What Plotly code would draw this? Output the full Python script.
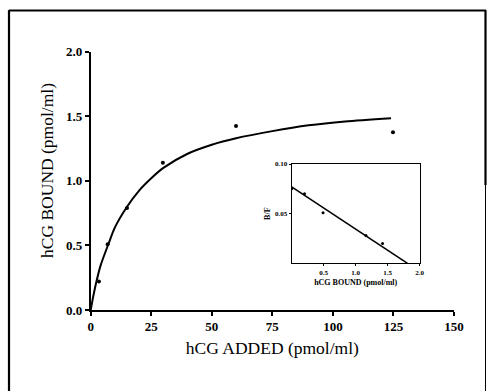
import plotly.graph_objects as go

# Main saturation data (hCG added vs bound)
added_pts = [3.4, 7.0, 15.0, 29.8, 60.0, 124.8]
bound_pts = [0.22, 0.51, 0.79, 1.14, 1.425, 1.376]

# Fitted saturation curve
curve_x = [0, 1, 2, 4, 7.5, 10, 15, 20, 25, 30, 40, 50, 60, 75, 90, 105, 124]
curve_y = [0, 0.10, 0.19, 0.34, 0.52, 0.64, 0.80, 0.925, 1.02, 1.10, 1.21, 1.28, 1.33, 1.385, 1.43, 1.46, 1.485]

# Scatchard inset
sc_bound = [0.0, 0.2, 0.49, 1.16, 1.42]
sc_bf = [0.075, 0.070, 0.051, 0.028, 0.020]
sc_line_x = [0.0, 1.81]
sc_line_y = [0.077, 0.0]

main_xticks = [0, 25, 50, 75, 100, 125, 150]
main_yticks = [0.0, 0.5, 1.0, 1.5, 2.0]
inset_xticks = [0.5, 1.0, 1.5, 2.0]
inset_yticks = [0.05, 0.10]

W, H = 488, 391
SERIF = "Liberation Serif"
tickfont = dict(family=SERIF, size=13, color="black")
titlefont = dict(family=SERIF, size=17.5, color="black")
smallfont = dict(family=SERIF, size=7, color="black")

fig = go.Figure()
fig.add_trace(go.Scatter(x=curve_x, y=curve_y, mode="lines",
                         line=dict(color="black", width=2, shape="spline", smoothing=0.8),
                         hoverinfo="skip", showlegend=False))
fig.add_trace(go.Scatter(x=added_pts, y=bound_pts, mode="markers", marker=dict(color="black", size=4),
                         showlegend=False))
fig.add_trace(go.Scatter(x=sc_line_x, y=sc_line_y, mode="lines", line=dict(color="black", width=1.6),
                         xaxis="x2", yaxis="y2", showlegend=False))
fig.add_trace(go.Scatter(x=sc_bound, y=sc_bf, mode="markers", marker=dict(color="black", size=3),
                         xaxis="x2", yaxis="y2", showlegend=False))

def px_x(p):
    return p / W

def px_y(p):
    return (H - p) / H

fig.update_layout(
    template="none",
    width=W, height=H, autosize=False,
    margin=dict(l=0, r=0, t=0, b=0, pad=0, autoexpand=False),
    paper_bgcolor="white", plot_bgcolor="white",
    xaxis=dict(domain=[px_x(90.7), px_x(454)], range=[0, 150], tickvals=main_xticks,
               ticktext=["<b>%d</b>" % v for v in main_xticks], automargin=False,
               showgrid=False, zeroline=False, showline=True, linecolor="black", linewidth=1.5,
               ticks="outside", ticklen=4, tickcolor="black", tickwidth=1.5,
               tickfont=tickfont, anchor="y",
               title=dict(text="hCG ADDED (pmol/ml)", font=titlefont, standoff=8)),
    yaxis=dict(domain=[px_y(310), px_y(51.7)], range=[0, 2.0], tickvals=main_yticks,
               ticktext=["<b>%.1f</b>" % v for v in main_yticks], automargin=False,
               showgrid=False, zeroline=False, showline=True, linecolor="black", linewidth=1.5,
               ticks="outside", ticklen=4, tickcolor="black", tickwidth=1.5,
               tickfont=tickfont, anchor="x"),
    xaxis2=dict(domain=[px_x(291.7), px_x(419.7)], range=[0, 2.0], tickvals=inset_xticks,
                ticktext=["<b>%.1f</b>" % v for v in inset_xticks], automargin=False,
                showgrid=False, zeroline=False, showline=True, mirror=True, linecolor="black", linewidth=1.2,
                ticks="outside", ticklen=2, tickcolor="black",
                tickfont=smallfont, anchor="y2",
                title=dict(text="<b>hCG BOUND (pmol/ml)</b>",
                           font=dict(family=SERIF, size=8, color="black"), standoff=3)),
    yaxis2=dict(domain=[px_y(263.3), px_y(164)], range=[0, 0.10], tickvals=inset_yticks,
                ticktext=["<b>%.2f</b>" % v for v in inset_yticks], automargin=False,
                showgrid=False, zeroline=False, showline=True, mirror=True, linecolor="black", linewidth=1.2,
                ticks="outside", ticklen=2, tickcolor="black",
                tickfont=smallfont, anchor="x2",
                title=dict(text="<b>B/F</b>", font=dict(family=SERIF, size=8, color="black"),
                           standoff=3)),
    annotations=[
        dict(text="hCG BOUND (pmol/ml)", textangle=-90, xref="paper", yref="paper",
             x=px_x(47), y=px_y(171), xanchor="center", yanchor="middle", showarrow=False,
             font=titlefont),
    ],
    shapes=[
        dict(type="line", xref="paper", yref="paper", x0=px_x(9), x1=px_x(9), y0=px_y(10), y1=0,
             line=dict(color="black", width=2.2)),
        dict(type="line", xref="paper", yref="paper", x0=px_x(9), x1=px_x(486), y0=px_y(10.5), y1=px_y(10.5),
             line=dict(color="black", width=2.2)),
        dict(type="line", xref="paper", yref="paper", x0=px_x(485.5), x1=px_x(485.5), y0=px_y(10), y1=px_y(185),
             line=dict(color="black", width=2.2)),
        dict(type="line", xref="paper", yref="paper", x0=px_x(485.5), x1=px_x(485.5), y0=px_y(185), y1=0,
             line=dict(color="black", width=1)),
    ],
)

fig.write_html("out.html")
